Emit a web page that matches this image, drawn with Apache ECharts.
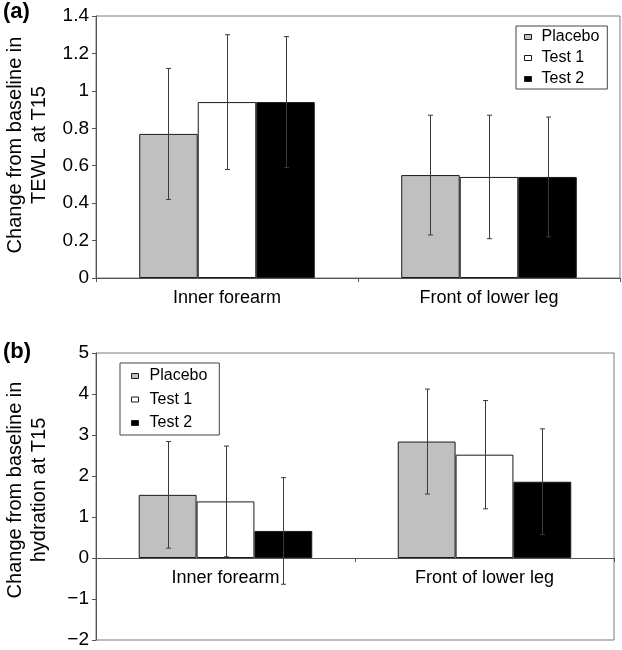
<!DOCTYPE html>
<html>
<head>
<meta charset="utf-8">
<script src="https://cdn.jsdelivr.net/npm/echarts@6/dist/echarts.min.js"></script>
<style>
  html, body { margin: 0; padding: 0; background: #fff; }
  #chart { width: 622px; height: 650px; }
</style>
</head>
<body>
<div id="chart"></div>
<script>
// ---- data ----
const categories = ['Inner forearm', 'Front of lower leg'];
const seriesNames = ['Placebo', 'Test 1', 'Test 2'];

// (a) change from baseline in TEWL at T15
const tewlPlacebo = [0.77, 0.55];
const tewlTest1   = [0.94, 0.54];
const tewlTest2   = [0.94, 0.54];
const tewlPlaceboErr = [0.35, 0.32];
const tewlTest1Err   = [0.36, 0.33];
const tewlTest2Err   = [0.35, 0.32];

// (b) change from baseline in hydration at T15
const hydPlacebo = [1.54, 2.84];
const hydTest1   = [1.38, 2.52];
const hydTest2   = [0.66, 1.86];
const hydPlaceboErr = [1.30, 1.28];
const hydTest1Err   = [1.35, 1.32];
const hydTest2Err   = [1.30, 1.29];

const tewlTicks = { min: 0, max: 1.4, interval: 0.2 };
const hydTicks  = { min: -2, max: 5, interval: 1 };

// ---- layout / styles ----
const FONT = 'Liberation Sans, Arial, Helvetica, sans-serif';
const fills = ['#c0c0c0', '#ffffff', '#000000'];
const BORDER = '#1a1a1a';
const AXIS = '#555555';
const ERR = '#3a3a3a';
const CAT_GAP = 0.33;
const grids = [
  { left: 96, top: 16, width: 524, height: 262 },
  { left: 96, top: 353, width: 518, height: 287 }
];

const chart = echarts.init(document.getElementById('chart'), null, { renderer: 'canvas' });

function barSeries(name, idx, values, grid) {
  return {
    name: name,
    type: 'bar',
    xAxisIndex: grid, yAxisIndex: grid,
    data: values,
    barGap: '0%',
    barCategoryGap: (CAT_GAP * 100) + '%',
    itemStyle: { color: fills[idx], borderColor: BORDER, borderWidth: 1 },
    emphasis: { disabled: true },
    animation: false
  };
}

function errSeries(idx, values, errs, grid) {
  const data = values.map((v, i) => [i, v - errs[i], v + errs[i]]);
  return {
    name: 'err' + grid + '_' + idx,
    type: 'custom',
    xAxisIndex: grid, yAxisIndex: grid,
    data: data,
    encode: { x: 0, y: [1, 2] },
    z: 5,
    silent: true,
    animation: false,
    renderItem: function (params, api) {
      const cat = api.value(0);
      const lo = api.coord([cat, api.value(1)]);
      const hi = api.coord([cat, api.value(2)]);
      const band = api.size([1, 0])[0];
      const bw = band * (1 - CAT_GAP) / 3;
      const x = Math.round(lo[0] + (idx - 1) * bw) + 0.5;
      const c = 2.5;
      const st = { stroke: ERR, lineWidth: 1 };
      return {
        type: 'group',
        children: [
          { type: 'line', shape: { x1: x, y1: hi[1], x2: x, y2: lo[1] }, style: st },
          { type: 'line', shape: { x1: x - c, y1: hi[1], x2: x + c, y2: hi[1] }, style: st },
          { type: 'line', shape: { x1: x - c, y1: lo[1], x2: x + c, y2: lo[1] }, style: st }
        ]
      };
    }
  };
}

function legendData() {
  return seriesNames.map((n, i) => ({
    name: n,
    itemStyle: { color: fills[i], borderColor: BORDER, borderWidth: 1 }
  }));
}

function yAxisCfg(grid, ticks) {
  return {
    type: 'value', gridIndex: grid,
    min: ticks.min, max: ticks.max, interval: ticks.interval,
    axisLine: { show: true, lineStyle: { color: AXIS, width: 1 } },
    axisTick: { show: true, length: 4, lineStyle: { color: AXIS } },
    splitLine: { show: false },
    axisLabel: {
      fontFamily: FONT, fontSize: 19, color: '#000', margin: 7,
      formatter: v => String(Math.round(v * 10) / 10).replace('-', '\u2212')
    }
  };
}

// category axis placed on the value-axis zero line (like the original)
function xAxisCfg(grid, ticks) {
  const zeroOffset = -grids[grid].height * (0 - ticks.min) / (ticks.max - ticks.min);
  return {
    type: 'category', gridIndex: grid, data: categories,
    position: 'bottom',
    offset: zeroOffset,
    axisLine: { show: true, onZero: false, lineStyle: { color: AXIS, width: 1 } },
    axisTick: { show: true, length: 4, lineStyle: { color: AXIS } },
    axisLabel: { fontFamily: FONT, fontSize: 18, color: '#000', margin: 11 }
  };
}

function vTitle(text, x, y) {
  return { type: 'text', x: x, y: y, rotation: Math.PI / 2,
    style: { text: text, font: '20px ' + FONT, fill: '#000', textAlign: 'center', textVerticalAlign: 'middle' } };
}

const option = {
  backgroundColor: '#fff',
  animation: false,
  grid: grids.map(g => Object.assign({}, g, {
    show: true, borderColor: '#7a7a7a', borderWidth: 1, backgroundColor: 'transparent',
    containLabel: false, outerBoundsMode: 'none'
  })),
  xAxis: [xAxisCfg(0, tewlTicks), xAxisCfg(1, hydTicks)],
  yAxis: [yAxisCfg(0, tewlTicks), yAxisCfg(1, hydTicks)],
  legend: [
    {
      orient: 'vertical', left: 516, top: 26,
      data: legendData(),
      icon: 'rect', itemWidth: 7, itemHeight: 5, itemGap: 5,
      padding: [3, 8, 2, 8],
      borderColor: '#444', borderWidth: 1, backgroundColor: '#fff',
      selectedMode: false,
      textStyle: { fontFamily: FONT, fontSize: 16, color: '#000', lineHeight: 16, padding: [0, 0, 0, 5] }
    },
    {
      orient: 'vertical', left: 120, top: 363,
      data: legendData(),
      icon: 'rect', itemWidth: 7, itemHeight: 5, itemGap: 7.5,
      padding: [5, 12, 4, 11],
      borderColor: '#444', borderWidth: 1, backgroundColor: '#fff',
      selectedMode: false,
      textStyle: { fontFamily: FONT, fontSize: 16, color: '#000', lineHeight: 16, padding: [0, 0, 0, 6] }
    }
  ],
  graphic: [
    { type: 'text', left: 3, top: 1, style: { text: '(a)', font: 'bold 22px ' + FONT, fill: '#000' } },
    { type: 'text', left: 3, top: 341, style: { text: '(b)', font: 'bold 22px ' + FONT, fill: '#000' } },
    vTitle('Change from baseline in', 15, 145),
    vTitle('TEWL at T15', 39, 145),
    vTitle('Change from baseline in', 15, 490),
    vTitle('hydration at T15', 39, 490)
  ],
  series: [
    barSeries('Placebo', 0, tewlPlacebo, 0),
    barSeries('Test 1', 1, tewlTest1, 0),
    barSeries('Test 2', 2, tewlTest2, 0),
    barSeries('Placebo', 0, hydPlacebo, 1),
    barSeries('Test 1', 1, hydTest1, 1),
    barSeries('Test 2', 2, hydTest2, 1),
    errSeries(0, tewlPlacebo, tewlPlaceboErr, 0),
    errSeries(1, tewlTest1, tewlTest1Err, 0),
    errSeries(2, tewlTest2, tewlTest2Err, 0),
    errSeries(0, hydPlacebo, hydPlaceboErr, 1),
    errSeries(1, hydTest1, hydTest1Err, 1),
    errSeries(2, hydTest2, hydTest2Err, 1)
  ]
};

chart.setOption(option);
</script>
</body>
</html>
